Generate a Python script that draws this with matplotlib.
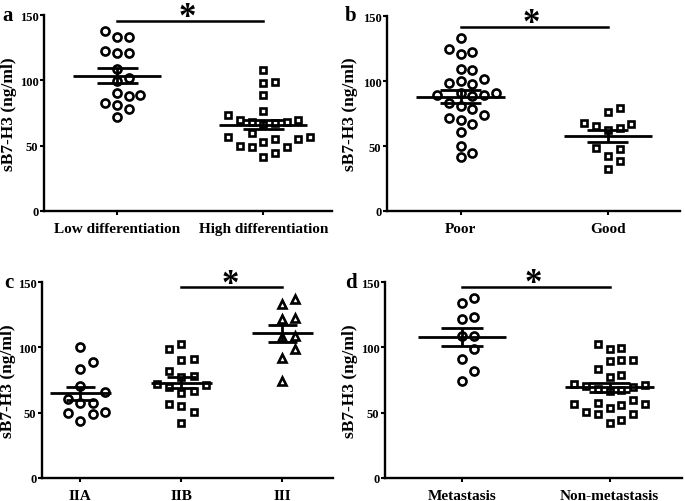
import numpy as np
import matplotlib
matplotlib.use('Agg')
import matplotlib.pyplot as plt

plt.rcParams['font.family'] = 'Liberation Serif'
plt.rcParams['font.weight'] = 'bold'

# ---- Data (sB7-H3, ng/ml) ----
# a: differentiation
low_diff = [133.4, 132.9, 137.5, 122.2, 121.0, 121.0, 108.7, 101.5, 99.2,
            89.0, 90.3, 88.3, 82.7, 81.0, 78.0, 71.7]
high_diff = [107.9, 98.5, 97.7, 89.0, 76.3, 73.5, 70.0, 67.9, 66.6, 67.3,
             68.4, 70.0, 59.7, 56.4, 55.0, 52.6, 55.0, 57.0, 49.5, 48.7,
             48.7, 41.3, 44.1]
labels_a = ['Low differentiation', 'High differentiation']

# b: prognosis
poor = [133.4, 124.7, 121.0, 122.6, 108.3, 109.0, 98.8, 101.9, 98.0, 100.0,
        89.3, 90.6, 90.6, 88.6, 89.3, 82.9, 80.9, 78.3, 73.7, 70.1, 71.9,
        66.8, 60.9, 50.2, 45.0, 41.2]
good = [79.6, 76.3, 67.6, 65.5, 62.2, 63.7, 66.8, 47.6, 48.4, 42.5, 38.1, 32.2]
labels_b = ['Poor', 'Good']

# c: stage
stage_2a = [100.4, 89.0, 83.4, 70.4, 66.1, 57.7, 57.7, 60.3, 49.6, 50.8,
            49.1, 44.0]
stage_2b = [102.2, 98.6, 90.7, 90.2, 82.1, 78.3, 77.5, 69.9, 71.2, 71.7,
            65.4, 66.6, 56.7, 55.4, 50.3, 42.2]
stage_3 = [133.5, 137.3, 122.5, 121.5, 98.6, 108.0, 108.7, 91.5, 74.2]
labels_c = ['IIA', 'IIB', 'III']

# d: metastasis
metastasis = [133.9, 138.0, 123.2, 121.4, 108.7, 108.7, 99.0, 91.3, 81.9, 74.0]
non_metastasis = [99.7, 98.5, 102.3, 90.6, 89.3, 90.6, 83.7, 78.6, 77.3,
                  72.2, 70.9, 69.6, 66.3, 67.1, 68.4, 70.4, 59.9, 56.9, 55.6,
                  53.6, 56.4, 57.7, 50.5, 49.2, 49.2, 42.3, 44.1]
labels_d = ['Metastasis', 'Non-metastasis']


def swarm_offsets(values, min_gap):
    """Column index for each point so that close values sit side by side."""
    cands = [0]
    for j in range(1, 8):
        cands += [j, -j]
    placed = []
    cols = np.zeros(len(values))
    for i in np.argsort(values):
        v = values[i]
        for c in cands:
            if all(not (o == c and abs(v - pv) < min_gap) for o, pv in placed):
                break
        cols[i] = c
        placed.append((c, v))
    return cols


MARKER_SIZE = {'o': 5.8, 's': 5.0, '^': 6.0}


def draw_panel(ax, groups, markers, names, step, xlim, sig_pair, sig_y,
               ylabel_x, letter_xy, letter):
    for i, (vals, m) in enumerate(zip(groups, markers), start=1):
        vals = np.asarray(vals)
        x = i + swarm_offsets(vals, 8.5) * step
        ax.plot(x, vals, ls='none', marker=m, ms=MARKER_SIZE[m], mfc='white',
                mec='black', mew=1.9, zorder=2)
        mean = vals.mean()
        sem = vals.std(ddof=1) / np.sqrt(len(vals))
        ax.hlines(mean, i - 0.3, i + 0.3, color='black', lw=2.0, zorder=3)
        ax.hlines([mean - sem, mean + sem], i - 0.14, i + 0.14,
                  color='black', lw=2.0, zorder=3)
        ax.vlines(i, mean - sem, mean + sem, color='black', lw=2.0, zorder=3)

    a, b = sig_pair
    ax.plot([a, b], [sig_y, sig_y], color='black', lw=1.8, clip_on=False)
    ax.text((a + b) / 2 - 0.02, sig_y - 4, '*', fontsize=25, ha='center',
            va='baseline', clip_on=False)

    ax.set_xlim(*xlim)
    ax.set_ylim(0, 150)
    ax.set_yticks([0, 50, 100, 150])
    ax.set_xticks(range(1, len(names) + 1))
    ax.set_xticklabels(names, fontsize=11, fontweight='bold')
    for t in ax.get_yticklabels():
        t.set_fontsize(9)
        t.set_fontweight('bold')
    ax.set_ylabel('sB7-H3 (ng/ml)', fontsize=12.5, fontweight='bold')
    ax.yaxis.set_label_coords(ylabel_x, 0.5)
    ax.tick_params(direction='out', length=3, width=1.5, pad=1)
    ax.tick_params(axis='x', pad=5)
    for s in ('top', 'right'):
        ax.spines[s].set_visible(False)
    for s in ('left', 'bottom'):
        ax.spines[s].set_linewidth(1.7)

    fig.text(letter_xy[0] / 685, 1 - letter_xy[1] / 502, letter,
             fontsize=15, fontweight='bold', ha='center', va='center')


fig = plt.figure(figsize=(6.85, 5.02), dpi=100)
ax_a = fig.add_axes([44 / 685, 1 - 212 / 502, 288 / 685, 196 / 502])
ax_b = fig.add_axes([387 / 685, 1 - 212 / 502, 293 / 685, 195 / 502])
ax_c = fig.add_axes([42 / 685, 1 - 479 / 502, 291 / 685, 196 / 502])
ax_d = fig.add_axes([385 / 685, 1 - 479 / 502, 297 / 685, 196 / 502])

draw_panel(ax_a, [low_diff, high_diff], ['o', 's'], labels_a, 0.08,
           (0.5, 2.47), (1, 2), 145.4, -0.094, (8, 16), 'a')
draw_panel(ax_b, [poor, good], ['o', 's'], labels_b, 0.08,
           (0.5, 2.49), (1, 2), 141.8, -0.099, (351, 16), 'b')
draw_panel(ax_c, [stage_2a, stage_2b, stage_3], ['o', 's', '^'], labels_c, 0.12,
           (0.62, 3.5), (2, 3), 145.9, -0.09, (9, 283), 'c')
draw_panel(ax_d, [metastasis, non_metastasis], ['o', 's'], labels_d, 0.08,
           (0.48, 2.49), (1, 2), 146.2, -0.091, (351, 283), 'd')

fig.savefig('out.png', dpi=100)
